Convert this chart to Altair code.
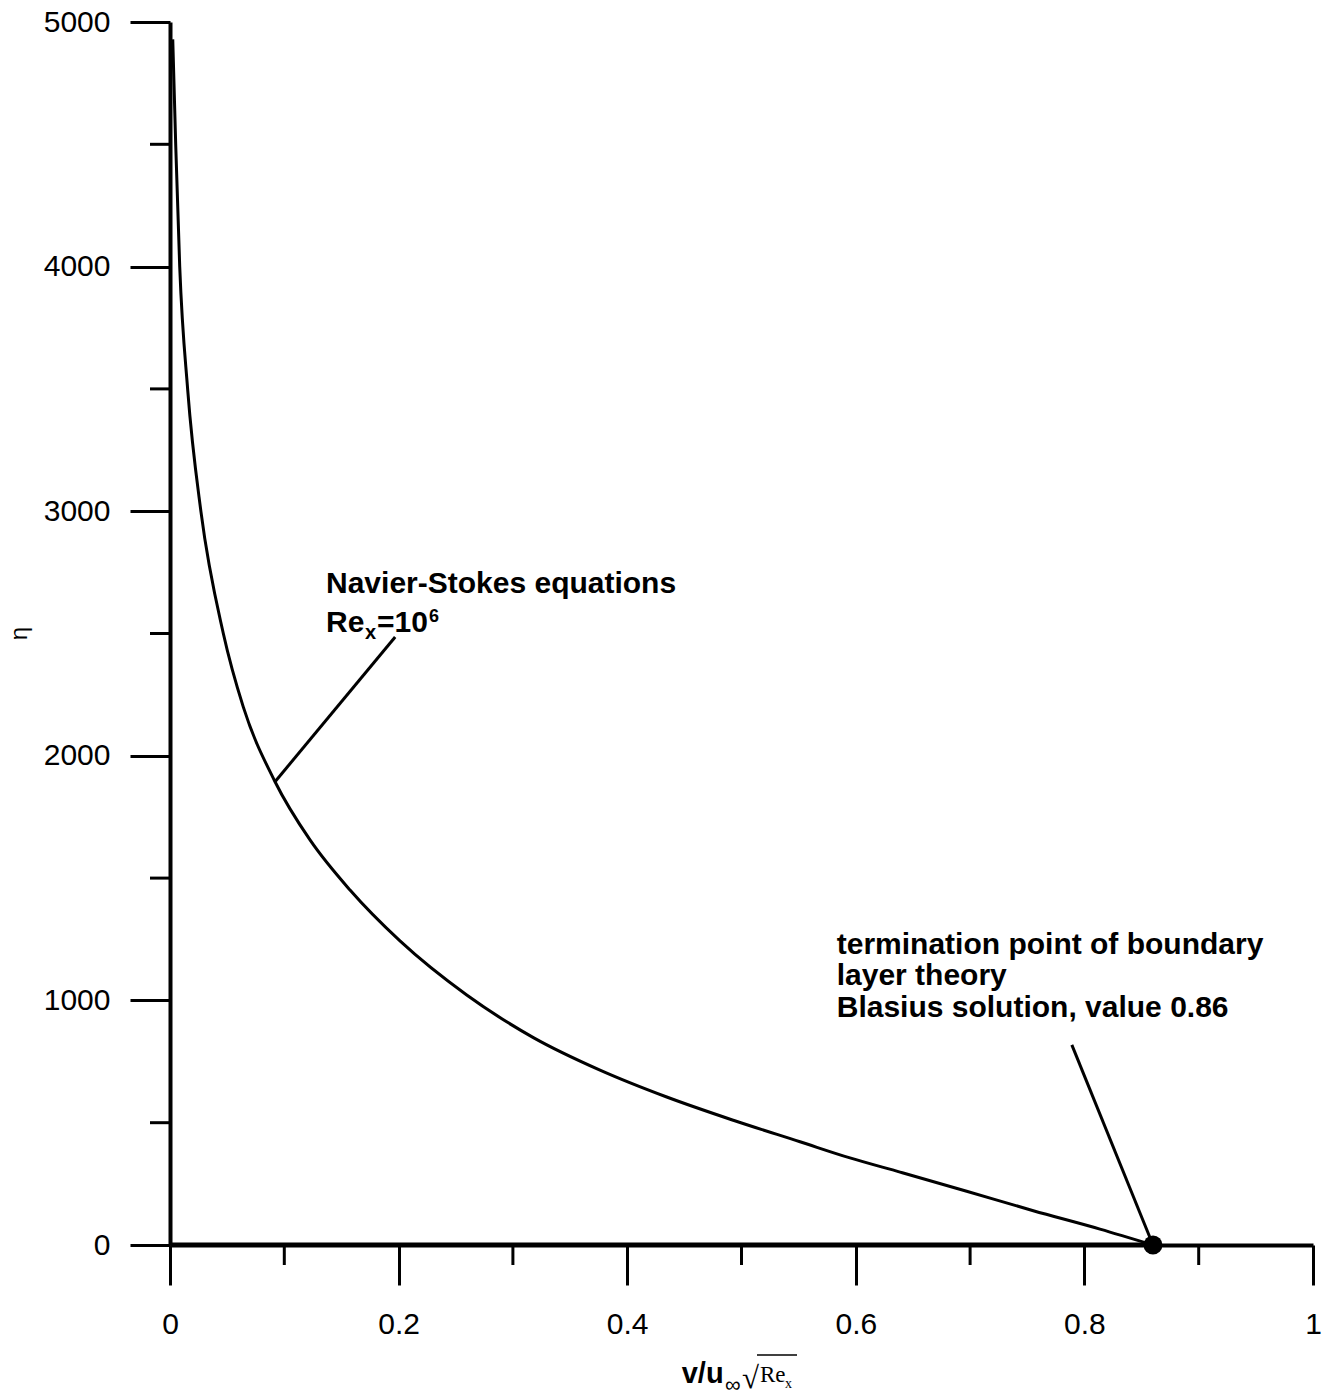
import altair as alt
import pandas as pd

# ---- data ----
curve_x = [0.0024, 0.0050, 0.0085, 0.0155, 0.0271, 0.0466, 0.0641, 0.0919, 0.1225,
           0.1575, 0.2012, 0.2596, 0.3179, 0.3762, 0.4346, 0.4928, 0.5512,
           0.5949, 0.6387, 0.6970, 0.7553, 0.8136, 0.86]
curve_eta = [4929, 4497, 4000, 3495, 2997, 2501, 2200, 1894, 1656,
             1451, 1243, 1022, 848, 715, 605, 510, 422,
             356, 298, 220, 140, 65, 0]

base_x = [0.0, 0.86]
base_eta = [4, 4]

term_x = [0.86]
term_eta = [0]

x_major = [0, 0.2, 0.4, 0.6, 0.8, 1.0]
x_minor = [0.1, 0.3, 0.5, 0.7, 0.9]
y_major = [0, 1000, 2000, 3000, 4000, 5000]
y_minor = [500, 1500, 2500, 3500, 4500]

ann_text = ["Navier-Stokes equations", "Re", "x", "=10", "6",
            "termination point of boundary", "layer theory",
            "Blasius solution, value 0.86"]
ann_x = [0.1365, 0.1365, 0.1706, 0.1811, 0.2266, 0.5833, 0.5833, 0.5833]
ann_eta = [2666, 2506, 2478, 2506, 2546, 1190, 1065, 931]
ann_size = [30, 30, 20, 30, 18, 30, 30, 30]

leader_x = [0.0919, 0.789]
leader_eta = [1894, 818]
leader_x2 = [0.197, 0.86]
leader_eta2 = [2486, 0]

# ---- layout ----
W, H = 1143, 1223
FONT = "Liberation Sans"
SERIF = "Liberation Serif"

curve_df = pd.DataFrame({"x": curve_x, "eta": curve_eta})
base_df = pd.DataFrame({"x": base_x, "eta": base_eta})
term_df = pd.DataFrame({"x": term_x, "eta": term_eta})
xminor_df = pd.DataFrame({"x": x_minor})
yminor_df = pd.DataFrame({"eta": y_minor})
ann_df = pd.DataFrame({"label": ann_text, "x": ann_x, "eta": ann_eta, "size": ann_size})
leader_df = pd.DataFrame({"x": leader_x, "eta": leader_eta, "x2": leader_x2, "eta2": leader_eta2})
one_row = pd.DataFrame({"k": [0]})

xscale = alt.Scale(domain=[0, 1], nice=False, zero=False)
yscale = alt.Scale(domain=[0, 5000], nice=False, zero=False)

x_axis = alt.Axis(values=x_major, format="~g", tickSize=40, tickWidth=3, tickColor="black",
                  domainWidth=4, domainColor="black", labelFont=FONT, labelFontSize=30,
                  labelColor="black", labelPadding=24, grid=False, title=None,
                  labelFlush=False, labelOverlap=False, labelBound=False)
y_axis = alt.Axis(values=y_major, format="d", tickSize=40, tickWidth=3, tickColor="black",
                  domainWidth=4, domainColor="black", labelFont=FONT, labelFontSize=30,
                  labelColor="black", labelPadding=20, grid=False, title=None,
                  labelFlush=False, labelOverlap=False, labelBound=False)

X = lambda f="x": alt.X(f"{f}:Q", scale=xscale, axis=x_axis)
Y = lambda f="eta": alt.Y(f"{f}:Q", scale=yscale, axis=y_axis)

curve = alt.Chart(curve_df).mark_line(color="black", strokeWidth=3, interpolate="monotone").encode(
    x=X(), y=Y())
base = alt.Chart(base_df).mark_line(color="black", strokeWidth=3).encode(x=X(), y=Y())
dot = alt.Chart(term_df).mark_circle(color="black", opacity=1, size=360).encode(x=X(), y=Y())

xminor = alt.Chart(xminor_df).mark_rule(color="black", strokeWidth=3).encode(
    x=X(), y=alt.value(H), y2=alt.value(H + 20))
yminor = alt.Chart(yminor_df).mark_rule(color="black", strokeWidth=3).encode(
    y=Y(), x=alt.value(-20), x2=alt.value(0))

leaders = alt.Chart(leader_df).mark_rule(color="black", strokeWidth=3).encode(
    x=X(), y=Y(), x2="x2:Q", y2="eta2:Q")

ann = alt.Chart(ann_df).mark_text(font=FONT, fontWeight="bold", align="left",
                                  baseline="alphabetic", color="black").encode(
    x=X(), y=Y(), text="label:N", size=alt.Size("size:Q", scale=None, legend=None))


def piece(txt, px, py, size, font=FONT, weight="normal", **kw):
    return alt.Chart(one_row).mark_text(text=txt, font=font, fontWeight=weight, fontSize=size,
                                        align="left", baseline="alphabetic", color="black",
                                        **kw).encode(x=alt.value(px), y=alt.value(py))


# x-axis title pieces: v/u∞ √Re_x
t1 = piece("v/u", 511.7, 1361, 29, weight="bold")
t2 = piece("∞", 555, 1370, 22)
t3 = piece("√", 572, 1366, 31, font=SERIF)
t4 = piece("Re", 590, 1360, 23, font=SERIF)
t5 = piece("x", 615, 1366, 14, font=SERIF)
bar = alt.Chart(one_row).mark_rule(color="black", strokeWidth=1.5).encode(
    x=alt.value(587), x2=alt.value(627), y=alt.value(1333))
ytitle = alt.Chart(one_row).mark_text(text="η", font=FONT, fontSize=24, angle=270,
                                      align="center", baseline="middle", color="black").encode(
    x=alt.value(-150), y=alt.value(611.5))

chart = alt.layer(
    curve, base, xminor, yminor, leaders, dot, ann, t1, t2, t3, t4, t5, bar, ytitle
).properties(
    width=W, height=H,
    autosize=alt.AutoSizeParams(type="none"),
    padding={"left": 170, "top": 22, "right": 16, "bottom": 154},
    background="white",
).configure_view(stroke=None)

chart.save("out.html", embed_options={"renderer": "svg", "actions": False})
